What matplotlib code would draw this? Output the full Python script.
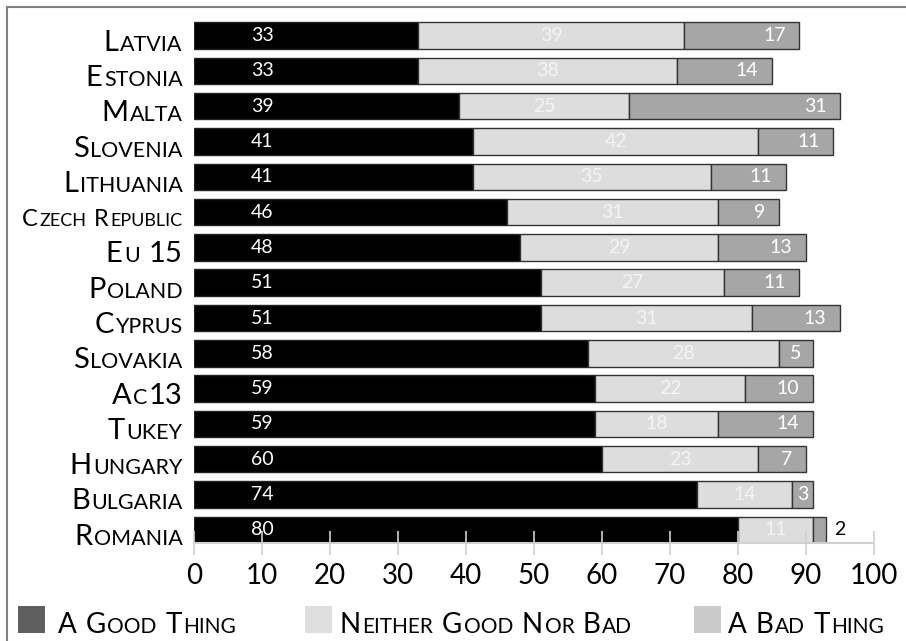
import matplotlib
matplotlib.use('Agg')
import matplotlib.pyplot as plt
import numpy as np
from matplotlib.transforms import IdentityTransform
from matplotlib.patches import Rectangle
from matplotlib.lines import Line2D

# Data
countries = ['Latvia', 'Estonia', 'Malta', 'Slovenia', 'Lithuania', 'Czech Republic',
             'Eu 15', 'Poland', 'Cyprus', 'Slovakia', 'Ac13', 'Tukey', 'Hungary',
             'Bulgaria', 'Romania']
good = [33, 33, 39, 41, 41, 46, 48, 51, 51, 58, 59, 59, 60, 74, 80]
neither = [39, 38, 25, 42, 35, 31, 29, 27, 31, 28, 22, 18, 23, 14, 11]
bad = [17, 14, 31, 11, 11, 9, 13, 11, 13, 5, 10, 14, 7, 3, 2]
series_names = ['A Good Thing', 'Neither Good Nor Bad', 'A Bad Thing']
x_ticks = list(range(0, 101, 10))

bar_colors = ['#000000', '#dddddd', '#a6a6a6']
legend_colors = ['#5f5f5f', '#dedede', '#c9c9c9']
FONT = 'Lato'

W, H = 906, 641
fig = plt.figure(figsize=(W / 100, H / 100), dpi=100)
ax = fig.add_axes([194 / W, 1 - 543 / H, 680 / W, (543 - 18) / H])

good = np.array(good)
neither = np.array(neither)
bad = np.array(bad)
y = np.arange(len(countries))[::-1]
bh = 0.75

ax.barh(y, good, height=bh, color=bar_colors[0], edgecolor='#222222', linewidth=1)
ax.barh(y, neither, left=good, height=bh, color=bar_colors[1], edgecolor='#333333', linewidth=1)
ax.barh(y, bad, left=good + neither, height=bh, color=bar_colors[2], edgecolor='#333333', linewidth=1)

ax.set_xlim(0, 100)
ax.set_ylim(-bh / 2, len(countries) - 0.5)
ax.set_axisbelow(False)
for s in ['top', 'right', 'left']:
    ax.spines[s].set_visible(False)
ax.spines['bottom'].set_color('#d0d0d0')
ax.spines['bottom'].set_linewidth(1.5)
ax.set_yticks([])
ax.set_xticks(x_ticks)
ax.tick_params(axis='x', direction='inout', length=17, width=1.2, color='#d0d0d0',
               labelsize=20, pad=6)
for lab in ax.get_xticklabels():
    lab.set_fontfamily(FONT)

# value labels
VS = 14
for yi, g, n, b in zip(y, good, neither, bad):
    ax.text(10, yi, str(g), color='white', ha='center', va='center',
            fontsize=VS, family=FONT)
    ax.text(g + n / 2, yi, str(n), color='#f4f4f4', ha='center', va='center',
            fontsize=VS, family=FONT)
    end = g + n + b
    if b <= 2:
        ax.text(end + 1.2, yi, str(b), color='black', ha='left', va='center',
                fontsize=VS, family=FONT)
    elif b <= 5:
        ax.text(end - b / 2, yi, str(b), color='white', ha='center', va='center',
                fontsize=VS, family=FONT)
    else:
        ax.text(end - 2, yi, str(b), color='white', ha='right', va='center',
                fontsize=VS, family=FONT)

renderer = fig.canvas.get_renderer()


def text_width(s, size):
    t = fig.text(0, 0, s, fontsize=size, family=FONT, transform=IdentityTransform())
    w = t.get_window_extent(renderer).width
    t.remove()
    return w


def small_caps(x, ybase, label, big, small, ha='left'):
    runs = []
    for ch in label:
        if ch == ' ':
            runs.append([' ', 'space'])
            continue
        size = small if ch.islower() else big
        if runs and runs[-1][1] == size:
            runs[-1][0] += ch.upper()
        else:
            runs.append([ch.upper(), size])
    space_w = text_width('A A', big) - text_width('AA', big)
    widths = []
    for s, size in runs:
        if size == 'space':
            widths.append(space_w)
        else:
            widths.append(text_width(s, size) + 1.5)
    total = sum(widths)
    x0 = x - total if ha == 'right' else x
    for (s, size), w in zip(runs, widths):
        if size != 'space':
            fig.text(x0, ybase, s, fontsize=size, family=FONT, color='black',
                     ha='left', va='baseline', transform=IdentityTransform())
        x0 += w


fig.canvas.draw()
for yi, name in zip(y, countries):
    cy = ax.transData.transform((0, yi))[1]
    if name == 'Czech Republic':
        small_caps(184, cy - 14, name, 17, 13, ha='right')
    else:
        small_caps(184, cy - 15, name, 21, 15.5, ha='right')

# legend
for name, col, sx, tx in zip(series_names, legend_colors, [18, 305, 694], [58, 340, 728]):
    fig.add_artist(Rectangle((sx, 8), 27, 27, facecolor=col, edgecolor='none',
                             transform=IdentityTransform()))
    small_caps(tx, 8, name, 20, 15)

# frame
fig.add_artist(Line2D([7, 7], [0, H - 7], color='#808080', lw=1.5, transform=IdentityTransform()))
fig.add_artist(Line2D([7, W], [H - 7, H - 7], color='#808080', lw=1.5, transform=IdentityTransform()))

fig.savefig('out.png', dpi=100)
